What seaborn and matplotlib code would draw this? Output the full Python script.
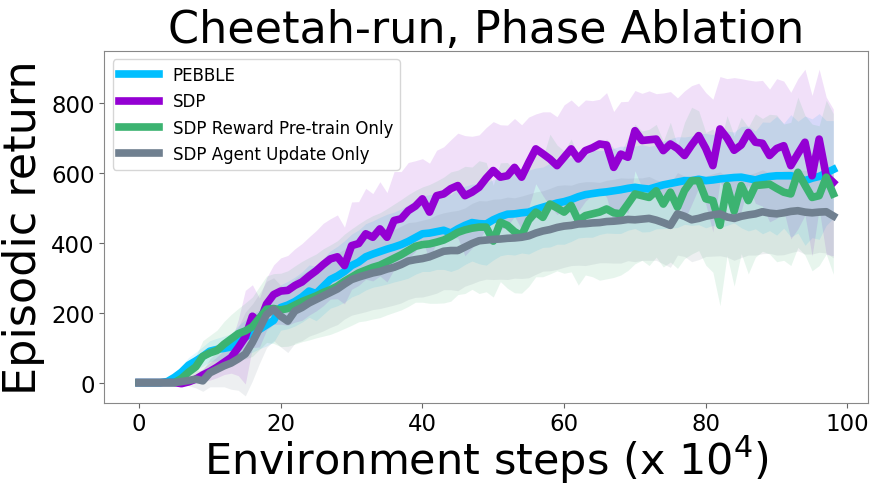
import numpy as np
import pandas as pd
import seaborn as sns
import matplotlib.pyplot as plt

# Environment steps (x 10^4)
steps = list(range(99))

pebble_mean = [0, 0, 0, 0, 3, 15, 30, 50, 62, 75, 90, 95, 98, 102, 118, 130, 142, 152, 165, 178,
               215, 222, 232, 245, 262, 255, 275, 295, 305, 318, 335, 345, 360, 368, 375, 382, 388, 395, 404, 415,
               426, 428, 432, 436, 428, 440, 450, 458, 455, 454, 466, 475, 482, 483, 486, 488, 496, 502, 508, 514,
               518, 524, 532, 538, 541, 544, 546, 549, 552, 556, 559, 556, 554, 560, 566, 570, 574, 578, 578, 582,
               578, 580, 583, 585, 587, 588, 584, 580, 586, 590, 592, 592, 592, 588, 578, 585, 590, 600, 610]
pebble_std = [0, 0, 0, 0, 5, 12, 18, 22, 25, 28, 30, 32, 35, 38, 45, 50, 55, 55, 60, 62,
              65, 68, 70, 72, 75, 78, 80, 82, 85, 88, 90, 92, 95, 95, 98, 100, 100, 102, 105, 105,
              108, 110, 108, 112, 110, 115, 112, 110, 115, 118, 115, 112, 115, 118, 115, 120, 118, 115, 120, 118,
              122, 120, 118, 122, 125, 120, 118, 122, 125, 120, 118, 125, 122, 120, 125, 128, 130, 125, 128, 130,
              135, 130, 140, 135, 130, 145, 150, 140, 160, 155, 170, 150, 175, 160, 185, 170, 180, 150, 140]

sdp_mean = [0, 0, 0, 0, 0, 0, -3, 2, 10, 22, 32, 44, 58, 72, 100, 130, 190, 172, 225, 252,
            262, 264, 278, 288, 305, 320, 338, 354, 360, 335, 392, 398, 426, 416, 440, 416, 464, 469, 492, 505,
            526, 488, 535, 540, 555, 564, 535, 545, 559, 585, 607, 588, 592, 616, 588, 630, 669, 655, 640, 621,
            645, 669, 640, 664, 672, 683, 680, 616, 654, 645, 721, 693, 695, 697, 664, 683, 670, 650, 680, 707,
            670, 621, 726, 700, 665, 680, 716, 688, 685, 650, 670, 678, 621, 655, 688, 592, 697, 592, 573]
sdp_std = [0, 0, 0, 0, 0, 0, 3, 8, 12, 18, 25, 30, 35, 45, 80, 134, 90, 70, 75, 85,
           95, 100, 105, 110, 112, 115, 118, 115, 120, 110, 125, 120, 130, 125, 135, 128, 140, 135, 138, 130,
           115, 140, 130, 135, 140, 150, 172, 160, 150, 145, 140, 150, 145, 140, 150, 130, 100, 120, 135, 140,
           150, 140, 150, 145, 135, 128, 150, 160, 150, 160, 115, 135, 140, 130, 165, 150, 145, 185, 170, 150,
           160, 190, 150, 170, 208, 190, 150, 175, 180, 190, 200, 185, 210, 215, 209, 230, 200, 225, 210]

reward_mean = [0, 0, 0, 0, 0, 0, 12, 30, 45, 75, 85, 92, 110, 125, 140, 148, 160, 185, 210, 212,
               208, 212, 222, 232, 240, 248, 258, 266, 276, 290, 302, 314, 322, 330, 336, 346, 356, 366, 378, 390,
               395, 397, 402, 408, 418, 430, 437, 442, 445, 445, 405, 459, 450, 432, 421, 465, 488, 473, 511, 500,
               488, 507, 464, 478, 483, 488, 497, 486, 483, 511, 540, 535, 530, 549, 511, 545, 502, 550, 578, 578,
               526, 521, 450, 564, 491, 564, 521, 564, 566, 568, 556, 545, 540, 602, 565, 530, 535, 588, 540]
reward_std = [0, 0, 0, 0, 0, 0, 10, 20, 30, 45, 50, 58, 65, 70, 72, 80, 85, 90, 95, 100,
              105, 108, 112, 115, 118, 120, 125, 128, 130, 135, 138, 140, 145, 148, 150, 152, 155, 158, 160, 160,
              165, 170, 175, 180, 185, 178, 182, 175, 190, 185, 160, 170, 180, 175, 165, 190, 185, 170, 200, 180,
              175, 190, 185, 170, 180, 195, 200, 185, 175, 190, 200, 185, 195, 190, 180, 200, 175, 195, 210, 200,
              190, 205, 230, 200, 215, 195, 210, 205, 190, 200, 210, 195, 205, 215, 200, 210, 200, 220, 230]

agent_mean = [0, 0, 0, 0, 0, 0, 3, 6, 10, 5, 28, 38, 48, 56, 68, 82, 115, 155, 195, 210,
              190, 176, 205, 215, 228, 238, 248, 258, 268, 282, 295, 302, 308, 314, 318, 325, 330, 338, 348, 352,
              355, 360, 368, 376, 378, 378, 388, 398, 406, 408, 410, 411, 413, 414, 416, 420, 428, 434, 438, 444,
              448, 450, 454, 455, 457, 458, 461, 462, 464, 467, 466, 468, 470, 465, 458, 450, 483, 476, 466, 470,
              476, 480, 483, 474, 470, 476, 480, 483, 489, 485, 483, 486, 490, 492, 488, 486, 488, 489, 477]
agent_std = [0, 0, 0, 0, 0, 0, 8, 15, 25, 30, 40, 50, 60, 75, 90, 120, 110, 100, 95, 90,
             88, 90, 92, 95, 95, 98, 100, 100, 102, 100, 102, 104, 105, 105, 106, 108, 108, 110, 110, 108,
             110, 110, 112, 110, 112, 115, 112, 115, 115, 112, 115, 115, 118, 115, 118, 120, 118, 115, 118, 120,
             118, 115, 118, 120, 118, 115, 118, 120, 122, 118, 120, 118, 120, 115, 118, 120, 118, 115, 120, 118,
             115, 118, 120, 115, 120, 118, 115, 118, 120, 115, 118, 120, 118, 115, 120, 118, 115, 118, 120]

labels = ['PEBBLE', 'SDP', 'SDP Reward Pre-train Only', 'SDP Agent Update Only']
colors = ['#00bfff', '#9400d3', '#3cb371', '#708090']
means = [pebble_mean, sdp_mean, reward_mean, agent_mean]
stds = [pebble_std, sdp_std, reward_std, agent_std]

fig = plt.figure(figsize=(8.73, 4.85), dpi=100)
ax = fig.add_axes([0.1195, 0.168, 0.8748, 0.7247])

# shaded bands first, then the mean curves on top
for m, s, c in zip(means, stds, colors):
    m = np.array(m, dtype=float)
    s = np.array(s, dtype=float)
    ax.fill_between(steps, m - s, m + s, color=c, alpha=0.12, linewidth=0)

for m, c, lab in zip(means, colors, labels):
    df = pd.DataFrame({'step': steps, 'ret': m})
    sns.lineplot(data=df, x='step', y='ret', color=c, linewidth=5.5, label=lab, ax=ax)

ax.set_xlim(-4.9, 102.9)
ax.set_ylim(-57, 949)
ax.set_xticks([0, 20, 40, 60, 80, 100])
ax.set_yticks([0, 200, 400, 600, 800])
ax.tick_params(labelsize=16.5, color='#666666')
for sp in ax.spines.values():
    sp.set_color('#888888')

ax.set_title('Cheetah-run, Phase Ablation', fontsize=32)
ax.set_xlabel('Environment steps (x $10^4$)', fontsize=31, labelpad=-1)
ax.set_ylabel('Episodic return', fontsize=32, labelpad=4)
ax.legend(loc='upper left', fontsize=12, handlelength=2.4)

plt.savefig('out.png', dpi=100)
